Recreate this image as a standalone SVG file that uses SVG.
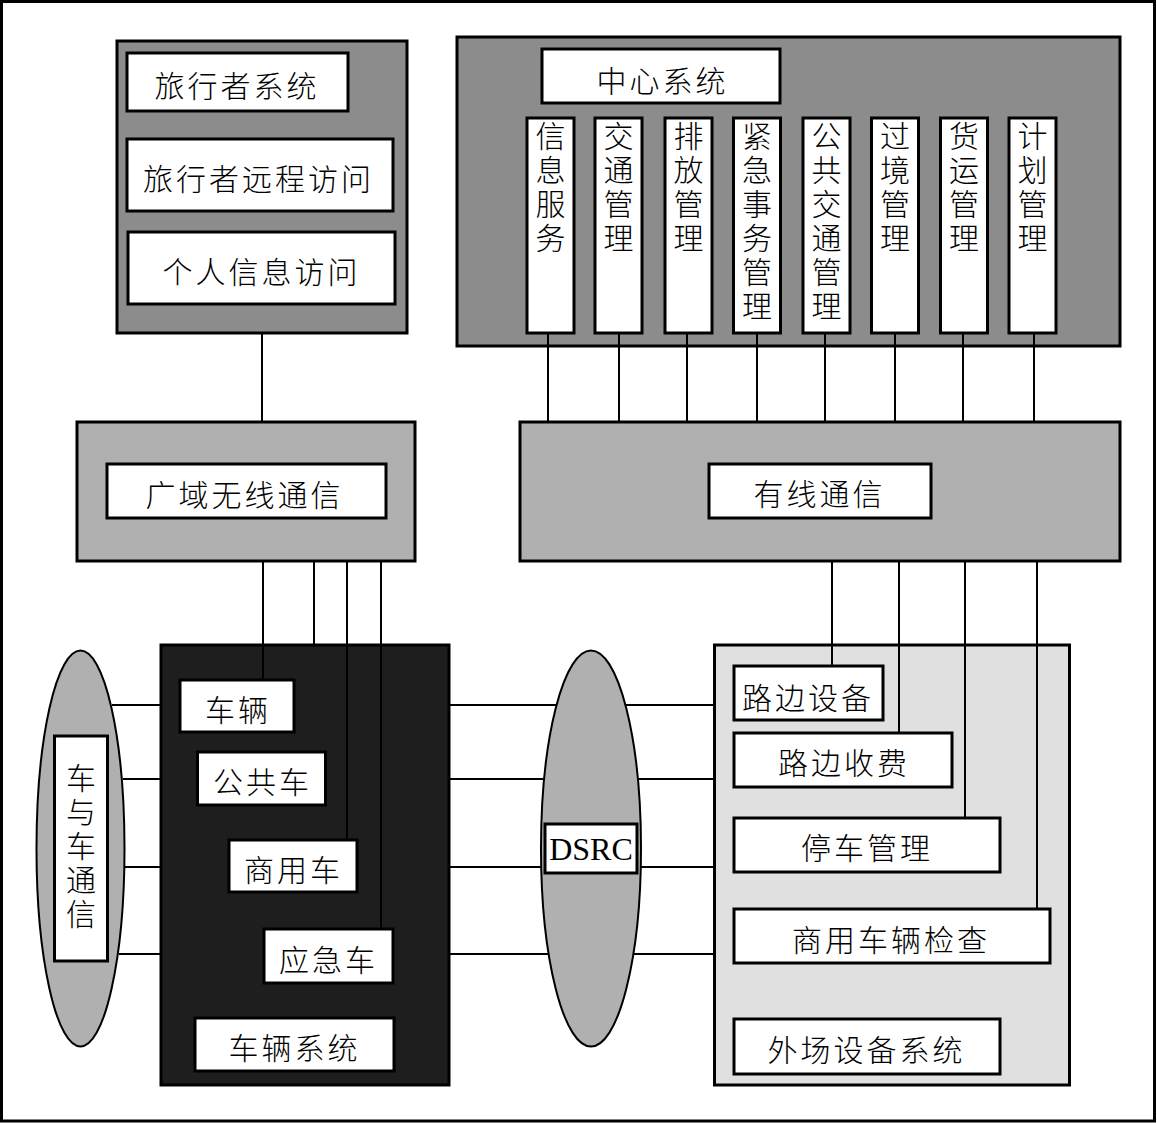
<svg xmlns="http://www.w3.org/2000/svg" width="1157" height="1123" viewBox="0 0 1157 1123">
<style>
.box{stroke:#000;stroke-width:3}
.w{fill:#fff;stroke:#000;stroke-width:3}
.dk{fill:#8c8c8c}
.md{fill:#b0b0b0}
.lt{fill:#e0e0e0}
.bk{fill:#1e1e1e}
.t{font-family:"Noto Sans CJK SC","Noto Sans",sans-serif;font-size:30px;font-weight:300;letter-spacing:3px;text-anchor:middle;fill:#000}
.v{font-family:"Noto Sans CJK SC","Noto Sans",sans-serif;font-size:30px;font-weight:300;letter-spacing:4px;writing-mode:vertical-rl;text-anchor:start;fill:#000}
.e{font-family:"Liberation Serif","Times New Roman",serif;font-size:32px;text-anchor:middle;fill:#000}
.c{stroke:#000;stroke-width:2;fill:none}
</style>
<rect x="1.5" y="1.5" width="1153" height="1119.5" fill="#fff" stroke="#000" stroke-width="3"/>

<g id="traveler">
<rect class="box dk" x="117" y="41" width="290" height="292"/>
<g id="traveler-system"><rect class="w" x="127" y="53" width="221" height="58"/><text class="t" x="237" y="97">旅行者系统</text></g>
<g id="traveler-remote"><rect class="w" x="127" y="139" width="266" height="72"/><text class="t" x="258.5" y="190">旅行者远程访问</text></g>
<g id="personal-info"><rect class="w" x="128" y="232" width="267" height="72"/><text class="t" x="261.5" y="282.5">个人信息访问</text></g>
</g>

<g id="center">
<rect class="box dk" x="457" y="37" width="663" height="309"/>
<g id="center-title"><rect class="w" x="542" y="49" width="238" height="54"/><text class="t" x="662.5" y="91.5">中心系统</text></g>
<g id="c1"><rect class="w" x="527" y="118" width="47" height="215"/><text class="v" x="550.5" y="121">信息服务</text></g>
<g id="c2"><rect class="w" x="595" y="118" width="47" height="215"/><text class="v" x="618.5" y="121">交通管理</text></g>
<g id="c3"><rect class="w" x="665" y="118" width="47" height="215"/><text class="v" x="688.5" y="121">排放管理</text></g>
<g id="c4"><rect class="w" x="733.5" y="118" width="47" height="215"/><text class="v" x="757" y="121">紧急事务管理</text></g>
<g id="c5"><rect class="w" x="803" y="118" width="47" height="215"/><text class="v" x="826.5" y="121">公共交通管理</text></g>
<g id="c6"><rect class="w" x="871.5" y="118" width="47" height="215"/><text class="v" x="895" y="121">过境管理</text></g>
<g id="c7"><rect class="w" x="940.5" y="118" width="47" height="215"/><text class="v" x="964" y="121">货运管理</text></g>
<g id="c8"><rect class="w" x="1009" y="118" width="47" height="215"/><text class="v" x="1032.5" y="121">计划管理</text></g>
</g>

<g id="wireless">
<rect class="box md" x="77" y="422" width="338" height="139"/>
<rect class="w" x="107" y="464" width="279" height="54"/><text class="t" x="244.5" y="505.5">广域无线通信</text>
</g>

<g id="wired">
<rect class="box md" x="520" y="422" width="600" height="139"/>
<rect class="w" x="709" y="464" width="222" height="54"/><text class="t" x="819.5" y="504.5">有线通信</text>
</g>

<g id="vehicle">
<rect class="box bk" x="161" y="645" width="288" height="440"/>
<g id="v1"><rect class="w" x="180" y="680" width="114" height="52"/><text class="t" x="238" y="720.5">车辆</text></g>
<g id="v2"><rect class="w" x="197.5" y="752" width="128" height="53"/><text class="t" x="262.5" y="792.5">公共车</text></g>
<g id="v3"><rect class="w" x="229" y="840" width="128" height="52"/><text class="t" x="293.5" y="880.5">商用车</text></g>
<g id="v4"><rect class="w" x="264" y="929" width="129" height="54"/><text class="t" x="328.5" y="970.5">应急车</text></g>
<g id="v5"><rect class="w" x="195" y="1018" width="199" height="53"/><text class="t" x="294.5" y="1059">车辆系统</text></g>
</g>

<g id="field">
<rect class="box lt" x="714.5" y="645" width="355" height="440"/>
<g id="f1"><rect class="w" x="734" y="666" width="149" height="54"/><text class="t" x="808" y="709">路边设备</text></g>
<g id="f2"><rect class="w" x="734" y="733" width="218" height="54"/><text class="t" x="844" y="774">路边收费</text></g>
<g id="f3"><rect class="w" x="734" y="818" width="266" height="54"/><text class="t" x="867" y="859">停车管理</text></g>
<g id="f4"><rect class="w" x="734" y="909" width="316" height="54"/><text class="t" x="891" y="950.5">商用车辆检查</text></g>
<g id="f5"><rect class="w" x="734" y="1019" width="266" height="55"/><text class="t" x="866.5" y="1060.5">外场设备系统</text></g>
</g>

<g id="v2v">
<ellipse class="md" cx="80.5" cy="848.5" rx="44" ry="198" stroke="#000" stroke-width="2"/>
<rect class="w" x="54.5" y="736" width="53" height="225"/>
<text class="v" x="81" y="763">车与车通信</text>
</g>

<g id="dsrc">
<ellipse class="md" cx="591" cy="848.5" rx="50" ry="198" stroke="#000" stroke-width="2"/>
<rect class="w" x="545" y="824" width="92" height="49"/>
<text class="e" x="591" y="860">DSRC</text>
</g>

<g id="connectors" class="c">
<line x1="262" y1="334" x2="262" y2="422"/>
<line x1="548" y1="333" x2="548" y2="422"/>
<line x1="619" y1="333" x2="619" y2="422"/>
<line x1="687" y1="333" x2="687" y2="422"/>
<line x1="757" y1="333" x2="757" y2="422"/>
<line x1="825" y1="333" x2="825" y2="422"/>
<line x1="895" y1="333" x2="895" y2="422"/>
<line x1="963" y1="333" x2="963" y2="422"/>
<line x1="1034" y1="333" x2="1034" y2="422"/>
<line x1="263" y1="561" x2="263" y2="680"/>
<line x1="314" y1="561" x2="314" y2="645"/>
<line x1="347" y1="561" x2="347" y2="840"/>
<line x1="381" y1="561" x2="381" y2="929"/>
<line x1="832" y1="561" x2="832" y2="666"/>
<line x1="899" y1="561" x2="899" y2="733"/>
<line x1="965" y1="561" x2="965" y2="818"/>
<line x1="1037" y1="561" x2="1037" y2="909"/>
<line x1="112" y1="705" x2="161" y2="705"/>
<line x1="123" y1="779" x2="161" y2="779"/>
<line x1="125" y1="867" x2="161" y2="867"/>
<line x1="119" y1="954" x2="161" y2="954"/>
<line x1="449" y1="705" x2="556" y2="705"/>
<line x1="626" y1="705" x2="714" y2="705"/>
<line x1="449" y1="779" x2="544" y2="779"/>
<line x1="638" y1="779" x2="714" y2="779"/>
<line x1="449" y1="867" x2="541" y2="867"/>
<line x1="641" y1="867" x2="714" y2="867"/>
<line x1="449" y1="954" x2="548" y2="954"/>
<line x1="634" y1="954" x2="714" y2="954"/>
</g>
</svg>
